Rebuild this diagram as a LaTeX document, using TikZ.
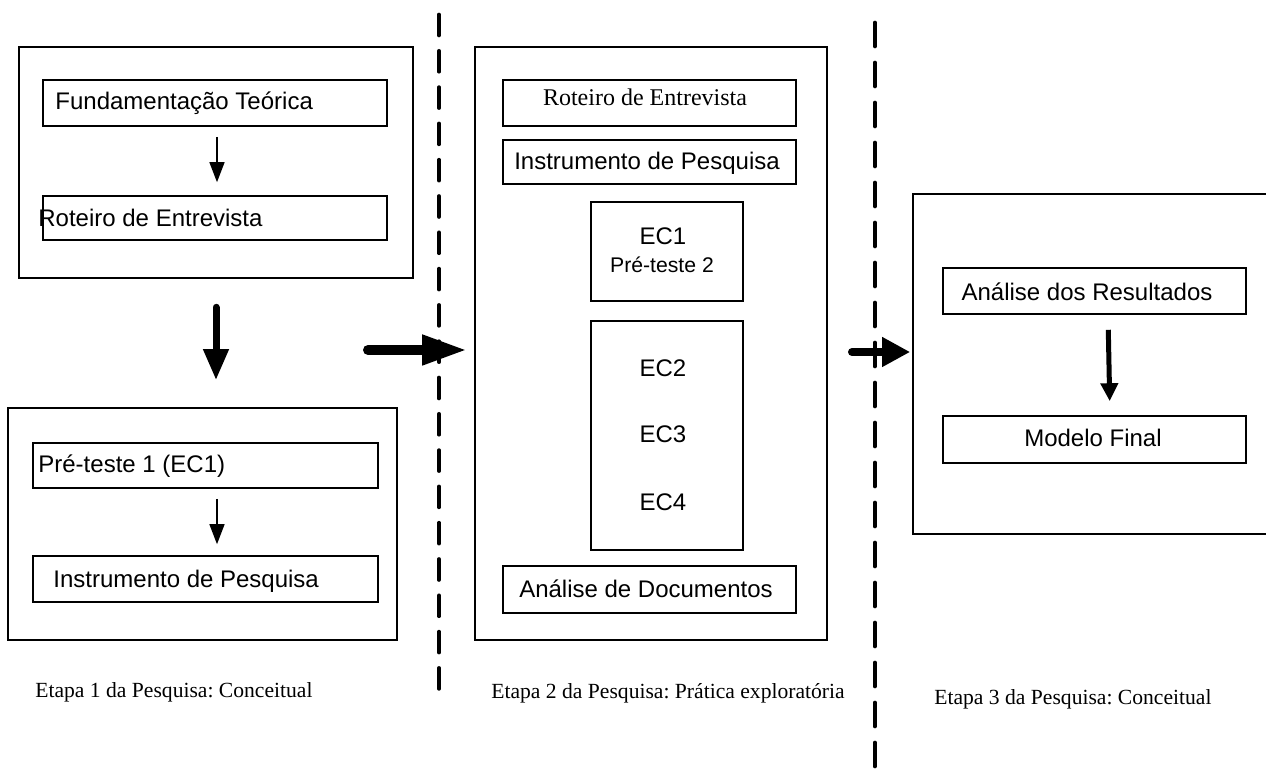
\documentclass[tikz,border=0pt]{standalone}
\usepackage{fontspec}
\setmainfont{Liberation Serif}
\newfontfamily\arialf{Liberation Sans}
\usetikzlibrary{arrows.meta,fit,calc}
\frenchspacing
\begin{document}
\begin{tikzpicture}[x=0.5pt,y=-0.5pt,
  box/.style={draw, line width=0.8pt, inner sep=0pt},
  sf/.style={font=\arialf\fontsize{12pt}{14pt}\selectfont, inner sep=0pt},
  sfs/.style={font=\arialf\fontsize{10.6pt}{12pt}\selectfont, inner sep=0pt},
  sr/.style={font=\fontsize{12pt}{14pt}\selectfont, inner sep=0pt},
  capt/.style={font=\fontsize{10.8pt}{13pt}\selectfont, inner sep=0pt, anchor=base west},
  sepa/.style={line width=1.8pt, line cap=round, dash pattern=on 10.5pt off 7.65pt},
  sepb/.style={line width=1.8pt, line cap=round, dash pattern=on 12pt off 8pt},
  thinarrow/.style={line width=0.7pt, -{Triangle[length=10pt,width=7.5pt]}},
  midarrow/.style={line width=2.5pt, -{Triangle[length=9pt,width=8.5pt]}},
  bigv/.style={line width=3.5pt, line cap=round, -{Triangle[length=15.5pt,width=12pt]}},
  bigh/.style={line width=5pt, line cap=round, -{Triangle[length=22.5pt,width=14pt]}},
  bigh2/.style={line width=4pt, line cap=round, -{Triangle[length=14pt,width=14pt]}}]
\useasboundingbox (0,0) rectangle (1266,769);
\clip (0,0) rectangle (1266,769);

% stage separators
\coordinate (s1a) at (439,14.5);
\coordinate (s1b) at (439,689);
\coordinate (s2a) at (875,22.5);
\coordinate (s2b) at (875,790);
\draw[sepa] (s1a) -- (s1b);
\draw[sepb] (s2a) -- (s2b);

% outer boxes
\node[box, fit={(19,47) (413,278)}] (A) {};
\node[box, fit={(8,408) (397,640)}] (B) {};
\node[box, fit={(475,47) (827,640)}] (C) {};
\node[box, fit={(913,194) (1275,534)}] (D) {};

% stage 1
\node[box, fit={(43,80) (387,126)}] (ft) {};
\node[sf, anchor=base west] (ftl) at (55,110) {Fundamentação Teórica};
\node[box, fit={(43,196) (387,240)}] (rta) {};
\node[sf, anchor=base west] (rtal) at (38,227) {Roteiro de Entrevista};
\node[box, fit={(33,443) (378,488)}] (pt1) {};
\node[sf, anchor=base west] (pt1l) at (38,473) {Pré-teste 1 (EC1)};
\node[box, fit={(33,556) (378,602)}] (ipb) {};
\node[sf, anchor=base west] (ipbl) at (53,588) {Instrumento de Pesquisa};

% stage 2
\node[box, fit={(503,80) (796,126)}] (rtc) {};
\node[sr, anchor=base] (rtcl) at (645,106) {Roteiro de Entrevista};
\node[box, fit={(503,140) (796,184)}] (ipc) {};
\node[sf, anchor=base] (ipcl) at (647,170) {Instrumento de Pesquisa};
\node[box, fit={(591,202) (743,301)}] (ec1) {};
\node[sf, anchor=base] (ec1l) at (663,245) {EC1};
\node[sfs, anchor=base] (pt2l) at (662,273) {Pré-teste 2};
\node[box, fit={(591,321) (743,550)}] (ec24) {};
\node[sf, anchor=base] (ec2l) at (663,377) {EC2};
\node[sf, anchor=base] (ec3l) at (663,443) {EC3};
\node[sf, anchor=base] (ec4l) at (663,511) {EC4};
\node[box, fit={(503,566) (796,613)}] (ad) {};
\node[sf, anchor=base] (adl) at (646,598) {Análise de Documentos};

% stage 3
\node[box, fit={(943,268) (1246,314)}] (ar) {};
\node[sf, anchor=base] (arl) at (1087,301) {Análise dos Resultados};
\node[box, fit={(943,416) (1246,463)}] (mf) {};
\node[sf, anchor=base] (mfl) at (1093,447) {Modelo Final};

% captions
\node[capt] (c1) at (35,698) {Etapa 1 da Pesquisa: Conceitual};
\node[capt] (c2) at (491,699) {Etapa 2 da Pesquisa: Prática exploratória};
\node[capt] (c3) at (934,705) {Etapa 3 da Pesquisa: Conceitual};

% arrows
\draw[thinarrow, shorten <=5pt, shorten >=6.5pt] ($(ft.south)+(2,0)$) -- ($(rta.north)+(2,0)$);
\draw[thinarrow, shorten <=5pt, shorten >=5.5pt] ($(pt1.south)+(11.5,0)$) -- ($(ipb.north)+(11.5,0)$);
\draw[bigv, shorten <=14.25pt, shorten >=13.5pt] (A.south) -- (A.south |- B.north);
\coordinate (a1) at (368,350);
\draw[bigh, shorten >=3.5pt] (a1) -- (a1 -| C.west);
\coordinate (a2) at (852,352);
\draw[bigh2, shorten >=1pt] (a2) -- (a2 -| D.west);
\draw[midarrow, shorten <=7.5pt, shorten >=7pt] ($(ar.south)+(13.5,0)$) -- ($(mf.north)+(15.5,0)$);
\end{tikzpicture}
\end{document}
